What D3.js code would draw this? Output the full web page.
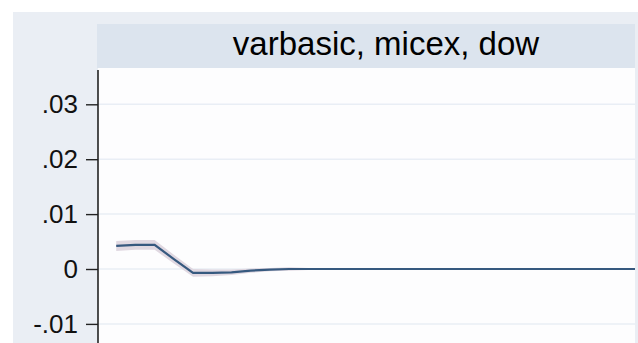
<!DOCTYPE html>
<html>
<head>
<meta charset="utf-8">
<script src="https://cdn.jsdelivr.net/npm/d3@7"></script>
<style>
  html, body { margin: 0; padding: 0; background: #ffffff; }
  svg { display: block; }
</style>
</head>
<body>
<svg id="chart" width="638" height="343"></svg>
<script>
// Impulse response: varbasic, micex, dow
const panelTitle = "varbasic, micex, dow";
const steps = d3.range(0, 28);
const irf = [0.0042, 0.0044, 0.0044, 0.0018, -0.0007, -0.0007, -0.0006, -0.0003, -0.0001, 0.0000,
             0.0000, 0.0000, 0.0000, 0.0000, 0.0000, 0.0000, 0.0000, 0.0000, 0.0000, 0.0000,
             0.0000, 0.0000, 0.0000, 0.0000, 0.0000, 0.0000, 0.0000, 0.0000];
const ciHalf = [0.0009, 0.0009, 0.0009, 0.0008, 0.0007, 0.0006, 0.0005, 0.0004, 0.0003, 0.0003,
                0.0002, 0.0001, 0.0000, 0.0000, 0.0000, 0.0000, 0.0000, 0.0000, 0.0000, 0.0000,
                0.0000, 0.0000, 0.0000, 0.0000, 0.0000, 0.0000, 0.0000, 0.0000];
const yTicks = [-0.01, 0, 0.01, 0.02, 0.03];
const yTickLabels = ["-.01", "0", ".01", ".02", ".03"];

const svg = d3.select("#chart");
const W = 638, H = 343;

// Graph region background
svg.append("rect").attr("x", 13).attr("y", 12).attr("width", W - 13).attr("height", H - 12)
  .attr("fill", "#eaeef4");

const plot = { left: 98, right: 635, top: 68, bottom: 343 };

// Panel header strip
svg.append("rect").attr("x", 97).attr("y", 24).attr("width", plot.right - 97).attr("height", plot.top - 24)
  .attr("fill", "#dce4ee");
svg.append("text").attr("x", 386).attr("y", 55).attr("text-anchor", "middle")
  .attr("font-family", "Liberation Sans, Arial, sans-serif").attr("font-size", 33)
  .attr("fill", "#000").text(panelTitle);

// Plot area
svg.append("rect").attr("x", plot.left).attr("y", plot.top)
  .attr("width", plot.right - plot.left).attr("height", plot.bottom - plot.top)
  .attr("fill", "#fdfdfe");

const x = d3.scaleLinear().domain([-1, 27]).range([97, 635]);
const y = d3.scaleLinear().domain([0, 0.01]).range([269, 214.1]);

// Gridlines
svg.append("g").selectAll("line").data(yTicks).join("line")
  .attr("x1", plot.left).attr("x2", plot.right)
  .attr("y1", d => y(d)).attr("y2", d => y(d))
  .attr("stroke", "#e9eef5").attr("stroke-width", 1.5);

svg.append("clipPath").attr("id", "pclip").append("rect")
  .attr("x", plot.left).attr("y", plot.top).attr("width", plot.right - plot.left).attr("height", plot.bottom - plot.top);

const data = steps.map((s, i) => ({ s, v: irf[i], lo: irf[i] - ciHalf[i], hi: irf[i] + ciHalf[i] }));

const g = svg.append("g").attr("clip-path", "url(#pclip)");

// Confidence band
g.append("path").datum(data)
  .attr("d", d3.area().x(d => x(d.s)).y0(d => y(d.lo)).y1(d => y(d.hi)))
  .attr("fill", "#e0d8e1");

// Response line
g.append("path").datum(data)
  .attr("d", d3.line().x(d => x(d.s)).y(d => y(d.v)))
  .attr("fill", "none").attr("stroke", "#36597f").attr("stroke-width", 2.2);

// Y axis
const yAxis = d3.axisLeft(y).tickValues(yTicks)
  .tickFormat((d, i) => yTickLabels[i]).tickSize(12).tickPadding(8);
const ga = svg.append("g").attr("transform", `translate(${plot.left},0)`).call(yAxis);
ga.select(".domain").attr("stroke", "none");
ga.append("line").attr("x1", 0).attr("x2", 0).attr("y1", 70).attr("y2", plot.bottom)
  .attr("stroke", "#222").attr("stroke-width", 1.6);
ga.selectAll(".tick line").attr("stroke", "#222").attr("stroke-width", 1.4);
ga.selectAll(".tick text").attr("font-family", "Liberation Sans, Arial, sans-serif")
  .attr("font-size", 26).attr("fill", "#111");
</script>
</body>
</html>
